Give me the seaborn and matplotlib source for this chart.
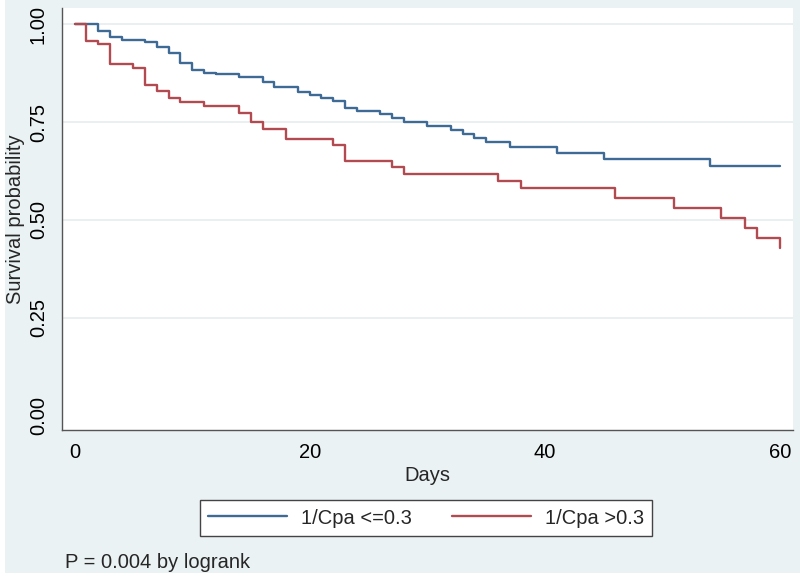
import numpy as np
import pandas as pd
import matplotlib
matplotlib.use("Agg")
import matplotlib.pyplot as plt
from matplotlib.patches import Rectangle
import seaborn as sns

# %% Data (Kaplan-Meier steps)
days_low = [0, 2, 3, 4, 6, 7, 8, 9, 10, 11, 12, 14, 16, 17, 19, 20, 21, 22, 23, 24,
            26, 27, 28, 30, 32, 33, 34, 35, 37, 41, 45, 54, 60]
surv_low = [1.000, 0.983, 0.968, 0.959, 0.953, 0.942, 0.925, 0.900, 0.883, 0.876,
            0.872, 0.866, 0.853, 0.840, 0.826, 0.819, 0.812, 0.803, 0.787, 0.779,
            0.771, 0.760, 0.751, 0.741, 0.730, 0.720, 0.709, 0.699, 0.685, 0.671,
            0.656, 0.637, 0.637]

days_high = [0, 1, 2, 3, 5, 6, 7, 8, 9, 11, 14, 15, 16, 18, 22, 23, 27, 28, 36, 38,
             46, 51, 55, 57, 58, 60]
surv_high = [1.000, 0.957, 0.948, 0.897, 0.887, 0.845, 0.830, 0.811, 0.802, 0.790,
             0.774, 0.751, 0.732, 0.706, 0.692, 0.650, 0.634, 0.618, 0.599, 0.581,
             0.555, 0.530, 0.506, 0.480, 0.455, 0.429]

group_labels = ["1/Cpa <=0.3", "1/Cpa >0.3"]
x_ticks = [0, 20, 40, 60]
y_ticks = [0.00, 0.25, 0.50, 0.75, 1.00]

df = pd.concat([
    pd.DataFrame({"Days": days_low, "surv": surv_low, "group": group_labels[0]}),
    pd.DataFrame({"Days": days_high, "surv": surv_high, "group": group_labels[1]}),
], ignore_index=True)

# %% Style
sns.set_style("white")
plt.rcParams["font.family"] = ["Liberation Sans", "DejaVu Sans"]
FS = 14.5

bg = "#eaf2f3"
palette = {group_labels[0]: "#3f6a95", group_labels[1]: "#b24a52"}

fig = plt.figure(figsize=(8, 5.81), dpi=100, facecolor="white")
fig.patches.append(Rectangle((5 / 800, 8 / 581), 1, 1, transform=fig.transFigure,
                             facecolor=bg, edgecolor="none", zorder=-10))
ax = fig.add_axes([61.7 / 800, 1 - 430 / 581, (793 - 61.7) / 800, (430 - 8) / 581])
ax.set_facecolor("white")

for yv in y_ticks[1:]:
    ax.axhline(yv, color="#e6eef0", lw=1.2, zorder=0)

sns.lineplot(data=df, x="Days", y="surv", hue="group", palette=palette,
             drawstyle="steps-post", lw=1.7, ax=ax, legend=False, estimator=None)

ax.set_xlim(-1.09, 61.1)
ax.set_ylim(-0.036, 1.041)
ax.set_xticks(x_ticks)
ax.set_yticks(y_ticks)
ax.set_yticklabels([f"{v:.2f}" for v in y_ticks], rotation=90, va="center")
ax.tick_params(axis="both", direction="out", length=6, width=1, color="#666666",
               labelsize=FS, labelcolor="black")
ax.tick_params(axis="y", pad=4)
ax.tick_params(axis="x", pad=3)
ax.set_xlabel("Days", fontsize=FS, labelpad=3)
ax.set_ylabel("Survival probability", fontsize=FS, labelpad=3)

for side in ["top", "right"]:
    ax.spines[side].set_visible(False)
for side in ["left", "bottom"]:
    ax.spines[side].set_color("#555555")
    ax.spines[side].set_linewidth(1)

handles = [plt.Line2D([], [], color=palette[g], lw=1.7) for g in group_labels]
leg = fig.legend(handles, group_labels, loc="center", ncol=2,
                 bbox_to_anchor=(426 / 800, 1 - 518 / 581), bbox_transform=fig.transFigure,
                 frameon=True, fancybox=False, framealpha=1, edgecolor="#444444",
                 handlelength=3.9, columnspacing=2.0, handletextpad=0.7,
                 borderpad=0.4, fontsize=FS)
leg.get_frame().set_linewidth(1)

fig.text(65 / 800, 1 - 562 / 581, "P = 0.004 by logrank", fontsize=FS, va="center", ha="left")

fig.savefig("out.png", dpi=100, facecolor=fig.get_facecolor())
